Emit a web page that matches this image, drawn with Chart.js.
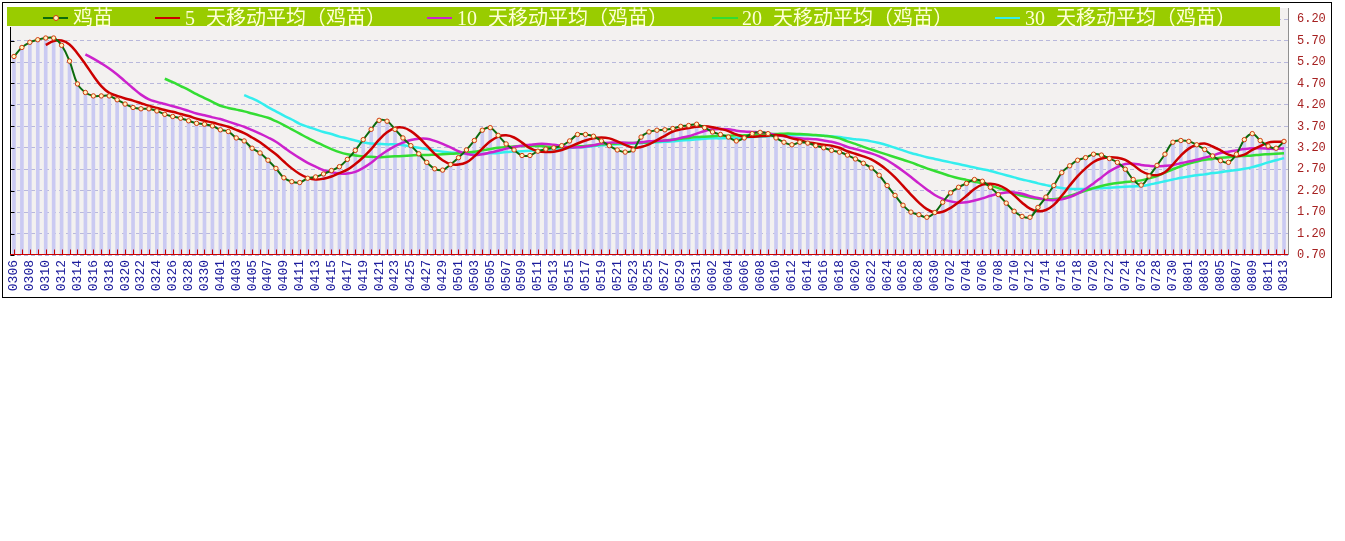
<!DOCTYPE html>
<html>
<head>
<meta charset="utf-8">
<script src="https://cdn.jsdelivr.net/npm/chart.js@4"></script>
<style>
  html, body { margin:0; padding:0; background:#ffffff; }
  #wrap { position:relative; width:1345px; height:541px; overflow:hidden; }
  #c { position:absolute; left:0; top:0; }
  #frame { position:absolute; left:2px; top:2px; width:1330px; height:296px; border:1px solid #000; box-sizing:border-box; pointer-events:none; }
  #legend { position:absolute; left:7px; top:7px; width:1273px; height:19px; background:#99cc00; }
  .lt { position:absolute; top:8px; height:20px; line-height:20px; font-size:20px; color:#ffffd8; white-space:nowrap;
        font-family:'Liberation Serif','Noto Sans CJK SC',serif; word-spacing:6px; }
  .ls { position:absolute; top:17px; height:2px; }
  .lm { position:absolute; top:15px; width:4px; height:4px; border-radius:50%; border:1px solid #d03a10; background:#fff6c0; box-sizing:content-box; }
</style>
</head>
<body>
<div id="wrap">
  <canvas id="c" width="1345" height="541"></canvas>
  <div id="legend"></div>
  <div class="ls" style="left:43px;width:25px;background:#0c6b0c"></div>
  <div class="lm" style="left:53px"></div>
  <div class="lt" style="left:73px">鸡苗</div>
  <div class="ls" style="left:155px;width:25px;background:#cc0000"></div>
  <div class="lt" style="left:185px">5 天移动平均（鸡苗）</div>
  <div class="ls" style="left:427px;width:25px;background:#cc22cc"></div>
  <div class="lt" style="left:457px">10 天移动平均（鸡苗）</div>
  <div class="ls" style="left:712px;width:26px;background:#33dd33"></div>
  <div class="lt" style="left:742px">20 天移动平均（鸡苗）</div>
  <div class="ls" style="left:995px;width:25px;background:#33eeee"></div>
  <div class="lt" style="left:1025px">30 天移动平均（鸡苗）</div>
  <div id="frame"></div>
</div>
<script>
const dates = [
"0306","0307","0308","0309","0310","0311","0312","0313","0314","0315","0316","0317","0318","0319","0320","0321","0322","0323","0324","0325","0326","0327","0328","0329","0330","0331",
"0401","0402","0403","0404","0405","0406","0407","0408","0409","0410","0411","0412","0413","0414","0415","0416","0417","0418","0419","0420","0421","0422","0423","0424","0425","0426","0427","0428","0429","0430",
"0501","0502","0503","0504","0505","0506","0507","0508","0509","0510","0511","0512","0513","0514","0515","0516","0517","0518","0519","0520","0521","0522","0523","0524","0525","0526","0527","0528","0529","0530","0531",
"0601","0602","0603","0604","0605","0606","0607","0608","0609","0610","0611","0612","0613","0614","0615","0616","0617","0618","0619","0620","0621","0622","0623","0624","0625","0626","0627","0628","0629","0630",
"0701","0702","0703","0704","0705","0706","0707","0708","0709","0710","0711","0712","0713","0714","0715","0716","0717","0718","0719","0720","0721","0722","0723","0724","0725","0726","0727","0728","0729","0730","0731",
"0801","0802","0803","0804","0805","0806","0807","0808","0809","0810","0811","0812","0813"
];

const price = [
5.33,5.54,5.66,5.72,5.76,5.76,5.59,5.22,4.69,4.49,
4.41,4.41,4.41,4.32,4.22,4.14,4.11,4.11,4.06,3.98,
3.93,3.89,3.83,3.77,3.75,3.71,3.62,3.58,3.43,3.36,
3.19,3.08,2.91,2.72,2.50,2.41,2.39,2.49,2.52,2.59,
2.67,2.76,2.93,3.14,3.39,3.63,3.84,3.82,3.63,3.43,
3.25,3.06,2.86,2.71,2.68,2.81,2.97,3.15,3.37,3.61,
3.67,3.49,3.29,3.15,3.02,3.02,3.12,3.17,3.20,3.25,
3.36,3.51,3.51,3.47,3.36,3.25,3.15,3.10,3.15,3.45,
3.57,3.61,3.62,3.65,3.70,3.72,3.75,3.67,3.57,3.51,
3.45,3.36,3.43,3.53,3.56,3.53,3.43,3.33,3.27,3.33,
3.31,3.25,3.20,3.14,3.10,3.03,2.94,2.84,2.73,2.56,
2.32,2.09,1.86,1.70,1.64,1.58,1.69,1.93,2.15,2.28,
2.37,2.46,2.42,2.28,2.11,1.91,1.72,1.60,1.58,1.81,
2.05,2.32,2.62,2.78,2.91,2.97,3.05,3.03,2.95,2.86,
2.70,2.46,2.33,2.54,2.79,3.05,3.33,3.37,3.35,3.27,
3.16,3.01,2.90,2.86,3.05,3.39,3.53,3.37,3.24,3.19,
3.35
];

const ma5 = [
null,null,null,null,5.60,5.69,5.70,5.61,5.40,5.15,
4.88,4.64,4.48,4.41,4.35,4.30,4.24,4.18,4.13,4.08,
4.04,3.99,3.94,3.88,3.83,3.79,3.74,3.69,3.62,3.54,
3.44,3.33,3.19,3.05,2.88,2.72,2.59,2.50,2.46,2.48,
2.53,2.61,2.69,2.82,2.98,3.17,3.39,3.56,3.66,3.67,
3.59,3.44,3.25,3.06,2.91,2.82,2.81,2.86,3.00,3.18,
3.35,3.46,3.49,3.44,3.32,3.19,3.12,3.10,3.11,3.15,
3.22,3.30,3.37,3.42,3.44,3.42,3.35,3.27,3.20,3.22,
3.28,3.38,3.48,3.58,3.63,3.66,3.69,3.70,3.68,3.64,
3.59,3.51,3.46,3.46,3.47,3.48,3.50,3.48,3.42,3.38,
3.33,3.30,3.27,3.25,3.20,3.12,3.06,3.00,2.93,2.82,
2.68,2.51,2.31,2.11,1.92,1.77,1.69,1.71,1.80,1.93,
2.08,2.24,2.34,2.36,2.33,2.24,2.09,1.92,1.78,1.72,
1.75,1.87,2.08,2.32,2.54,2.72,2.87,2.95,2.98,2.97,
2.92,2.80,2.66,2.58,2.56,2.63,2.81,3.02,3.18,3.27,
3.30,3.23,3.14,3.04,3.00,3.04,3.15,3.24,3.32,3.34,
3.34
];

const ma10 = [
null,null,null,null,null,null,null,null,null,5.38,
5.28,5.17,5.05,4.91,4.75,4.59,4.44,4.33,4.27,4.22,
4.17,4.12,4.06,4.00,3.96,3.91,3.87,3.81,3.75,3.69,
3.61,3.53,3.44,3.34,3.21,3.08,2.96,2.85,2.76,2.68,
2.63,2.60,2.60,2.64,2.73,2.85,3.00,3.13,3.24,3.32,
3.38,3.41,3.41,3.36,3.29,3.21,3.12,3.06,3.03,3.05,
3.09,3.13,3.18,3.22,3.25,3.27,3.29,3.29,3.27,3.24,
3.21,3.21,3.23,3.26,3.30,3.32,3.32,3.32,3.31,3.33,
3.35,3.36,3.37,3.39,3.43,3.47,3.53,3.59,3.63,3.64,
3.63,3.60,3.58,3.57,3.56,3.54,3.50,3.47,3.44,3.42,
3.41,3.40,3.37,3.34,3.29,3.22,3.17,3.12,3.07,3.00,
2.91,2.79,2.66,2.52,2.37,2.23,2.10,2.01,1.95,1.92,
1.93,1.97,2.02,2.08,2.13,2.16,2.16,2.13,2.07,2.03,
1.99,1.98,2.00,2.05,2.13,2.24,2.37,2.51,2.65,2.75,
2.82,2.83,2.80,2.78,2.77,2.78,2.80,2.84,2.88,2.92,
2.97,3.02,3.08,3.11,3.14,3.17,3.19,3.19,3.18,3.17,
3.19
];

const ma20 = [
null,null,null,null,null,null,null,null,null,null,
null,null,null,null,null,null,null,null,null,4.81,
4.73,4.64,4.55,4.45,4.36,4.27,4.18,4.13,4.09,4.05,
4.00,3.95,3.90,3.82,3.73,3.63,3.53,3.43,3.34,3.25,
3.17,3.10,3.05,3.02,3.00,2.99,2.98,2.99,3.00,3.01,
3.02,3.03,3.03,3.04,3.05,3.06,3.07,3.09,3.11,3.14,
3.17,3.20,3.22,3.23,3.24,3.24,3.24,3.23,3.22,3.22,
3.22,3.23,3.24,3.26,3.28,3.29,3.30,3.31,3.31,3.32,
3.33,3.35,3.37,3.39,3.41,3.43,3.45,3.46,3.47,3.48,
3.48,3.49,3.49,3.50,3.51,3.52,3.52,3.53,3.53,3.52,
3.51,3.50,3.48,3.46,3.42,3.35,3.29,3.22,3.16,3.10,
3.04,2.98,2.92,2.86,2.79,2.72,2.66,2.60,2.54,2.49,
2.45,2.41,2.37,2.32,2.26,2.20,2.14,2.08,2.04,2.01,
2.00,2.00,2.03,2.08,2.14,2.20,2.26,2.31,2.35,2.38,
2.40,2.42,2.44,2.49,2.54,2.62,2.70,2.77,2.83,2.88,
2.92,2.94,2.97,2.98,3.00,3.01,3.02,3.04,3.05,3.06,
3.07
];

const ma30 = [
null,null,null,null,null,null,null,null,null,null,
null,null,null,null,null,null,null,null,null,null,
null,null,null,null,null,null,null,null,null,4.43,
4.35,4.26,4.15,4.05,3.95,3.86,3.76,3.69,3.63,3.57,
3.52,3.46,3.42,3.37,3.33,3.30,3.29,3.28,3.28,3.26,
3.23,3.20,3.17,3.14,3.11,3.09,3.07,3.06,3.06,3.06,
3.07,3.08,3.10,3.11,3.12,3.13,3.14,3.15,3.17,3.18,
3.20,3.21,3.22,3.24,3.26,3.27,3.28,3.29,3.30,3.31,
3.32,3.33,3.34,3.35,3.37,3.38,3.40,3.41,3.42,3.42,
3.43,3.43,3.44,3.45,3.46,3.47,3.48,3.49,3.50,3.50,
3.50,3.49,3.48,3.47,3.45,3.42,3.40,3.38,3.35,3.31,
3.26,3.20,3.14,3.08,3.03,2.98,2.94,2.90,2.86,2.82,
2.78,2.74,2.70,2.66,2.61,2.56,2.51,2.46,2.42,2.37,
2.33,2.29,2.26,2.24,2.24,2.24,2.25,2.26,2.27,2.28,
2.29,2.30,2.31,2.34,2.38,2.42,2.46,2.50,2.53,2.56,
2.58,2.61,2.63,2.66,2.68,2.71,2.75,2.80,2.86,2.91,
2.96
];

const yTickValues = [0.7,1.2,1.7,2.2,2.7,3.2,3.7,4.2,4.7,5.2,5.7,6.2];
const seriesNames = ['鸡苗','5 天移动平均（鸡苗）','10 天移动平均（鸡苗）','20 天移动平均（鸡苗）','30 天移动平均（鸡苗）'];

const decor = {
  id: 'decor',
  beforeDraw(chart) {
    const {ctx, chartArea: a} = chart;
    ctx.save();
    ctx.fillStyle = '#f3f1f0';
    ctx.fillRect(a.left, a.top, a.right - a.left, a.bottom - a.top);
    ctx.restore();
  },
  afterDraw(chart) {
    const {ctx, chartArea: a, scales: {x, y}} = chart;
    ctx.save();
    ctx.lineWidth = 1;
    ctx.strokeStyle = '#909090';
    const rx = Math.round(a.right) + 0.5;
    ctx.beginPath(); ctx.moveTo(rx, a.top); ctx.lineTo(rx, a.bottom); ctx.stroke();
    ctx.strokeStyle = '#000000';
    const lx = Math.round(a.left) + 0.5;
    ctx.beginPath(); ctx.moveTo(lx, a.top + 19); ctx.lineTo(lx, a.bottom); ctx.stroke();
    y.ticks.forEach(t => {
      const py = Math.round(y.getPixelForValue(t.value)) + 0.5;
      if (py > a.top + 20) { ctx.beginPath(); ctx.moveTo(lx, py); ctx.lineTo(lx + 4, py); ctx.stroke(); }
    });
    ctx.strokeStyle = '#cc0000';
    const by = Math.round(a.bottom) - 0.5;
    ctx.beginPath(); ctx.moveTo(a.left, by); ctx.lineTo(a.right, by); ctx.stroke();
    x.ticks.forEach((t, i) => {
      const px = Math.round(x.getPixelForTick(i)) + 0.5;
      ctx.beginPath(); ctx.moveTo(px, by); ctx.lineTo(px, by - 5); ctx.stroke();
    });
    ctx.restore();
  }
};

const lineBase = { type: 'line', pointRadius: 0, borderWidth: 2.5, tension: 0.4, fill: false, spanGaps: false };

new Chart(document.getElementById('c'), {
  data: {
    labels: dates,
    datasets: [
      Object.assign({}, lineBase, { label: seriesNames[0], data: price, borderColor: '#0c6b0c', borderWidth: 2,
        pointRadius: 2.2, pointBorderWidth: 1, pointBorderColor: '#d03a10', pointBackgroundColor: '#fff6c0', order: 1 }),
      Object.assign({}, lineBase, { label: seriesNames[1], data: ma5, borderColor: '#cc0000', order: 2 }),
      Object.assign({}, lineBase, { label: seriesNames[2], data: ma10, borderColor: '#cc22cc', order: 3 }),
      Object.assign({}, lineBase, { label: seriesNames[3], data: ma20, borderColor: '#33dd33', order: 4 }),
      Object.assign({}, lineBase, { label: seriesNames[4], data: ma30, borderColor: '#33eeee', order: 5 }),
      { type: 'bar', label: 'bars', data: price, backgroundColor: '#cacaf2', barThickness: 3, order: 10 }
    ]
  },
  options: {
    responsive: false,
    animation: false,
    layout: { padding: { left: 10, top: 8, right: 12, bottom: 242 } },
    plugins: { legend: { display: false }, tooltip: { enabled: false } },
    scales: {
      x: {
        offset: true,
        grid: { display: false, drawTicks: false },
        border: { display: false },
        ticks: {
          autoSkip: false, maxRotation: 90, minRotation: 90, padding: 5,
          color: '#1c1c9c', font: { family: 'Liberation Mono', size: 13 },
          callback: (v, i) => (i % 2 === 0 ? dates[i] : '')
        },
        afterFit: s => { s.height = 44; s.paddingLeft = 0; s.paddingRight = 0; }
      },
      y: {
        position: 'right',
        min: 0.7, max: 6.46,
        afterBuildTicks: s => { s.ticks = yTickValues.map(v => ({ value: v })); },
        grid: { color: '#b8b8dc', drawTicks: false, lineWidth: 1 },
        border: { display: false, dash: [4, 3] },
        ticks: {
          padding: 9, color: '#a62020', font: { family: 'Liberation Mono', size: 12 },
          callback: v => Number(v).toFixed(2)
        },
        afterFit: s => { s.width = 45; s.paddingTop = 0; s.paddingBottom = 0; }
      }
    }
  },
  plugins: [decor]
});
</script>
</body>
</html>
